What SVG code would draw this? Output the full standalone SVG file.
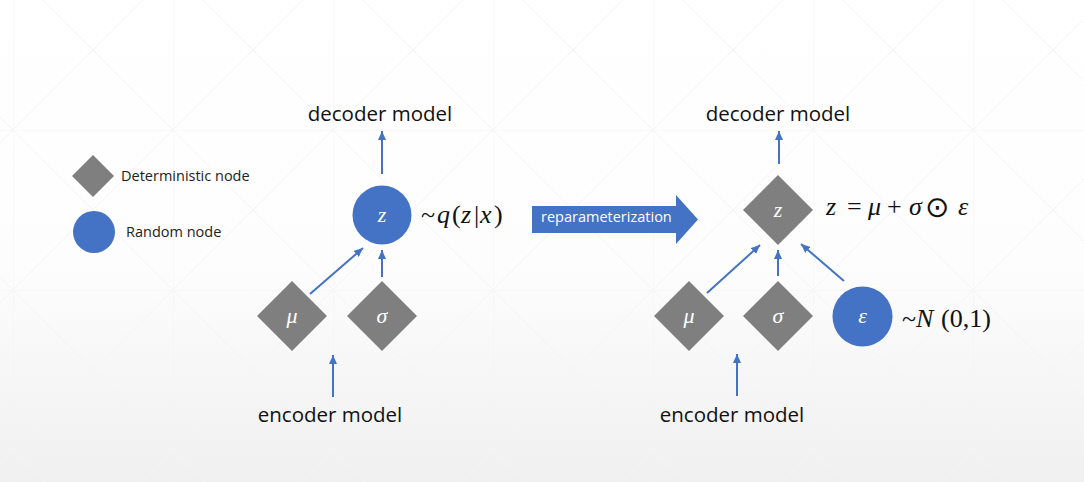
<svg xmlns="http://www.w3.org/2000/svg" width="1084" height="482" viewBox="0 0 1084 482">
  <defs>
    <linearGradient id="bg" x1="0" y1="0" x2="0" y2="1">
      <stop offset="0" stop-color="#ffffff"/>
      <stop offset="0.55" stop-color="#fdfdfd"/>
      <stop offset="1" stop-color="#f0f0f0"/>
    </linearGradient>
    <pattern id="grid" patternUnits="userSpaceOnUse" x="13" y="130" width="160" height="160">
      <path d="M0,0 L160,0 M0,0 L0,160 M0,0 L160,160 M160,0 L0,160" fill="none" stroke="#f4f4f4" stroke-width="1"/>
    </pattern>
    <marker id="ah" markerUnits="userSpaceOnUse" markerWidth="9" markerHeight="8" refX="9" refY="4" orient="auto">
      <path d="M0,0 L9,4 L0,8 z" fill="#4472C4"/>
    </marker>
  </defs>
  <style>
    .det { fill: #7F7F7F; }
    .rnd { fill: #4472C4; }
    .conn { stroke: #4472C4; stroke-width: 2; fill: none; marker-end: url(#ah); }
    .lbl { font-family: "Open Sans", "Liberation Sans", sans-serif; fill: #111111; }
    .big { font-size: 20.5px; text-anchor: middle; }
    .leg { font-size: 14.5px; fill: #222222; }
    .math { font-family: "Liberation Serif", "DejaVu Serif", serif; font-style: italic; }
    .up { font-style: normal; }
    .inw { fill: #ffffff; font-size: 22px; text-anchor: middle; }
    .eq { fill: #111111; font-size: 26px; }
  </style>

  <rect x="0" y="0" width="1084" height="482" fill="url(#bg)"/>
  <rect x="0" y="0" width="1084" height="482" fill="url(#grid)"/>

  <g id="legend">
    <g id="legend-det">
      <polygon class="det" points="93,155 114,176 93,197 72,176"/>
      <text class="lbl leg" x="121" y="181">Deterministic node</text>
    </g>
    <g id="legend-rnd">
      <circle class="rnd" cx="94" cy="232" r="21"/>
      <text class="lbl leg" x="126" y="237">Random node</text>
    </g>
  </g>

  <!-- Left diagram -->
  <g id="left-decoder"><text class="lbl big" x="380" y="121">decoder model</text></g>
  <g id="left-encoder"><text class="lbl big" x="330" y="422">encoder model</text></g>
  <g id="left-z">
    <circle class="rnd" cx="382" cy="215" r="29.5"/>
    <text class="math inw" x="382" y="222">z</text>
    <text class="math eq" y="223"><tspan class="up" x="421">~</tspan><tspan x="437">q</tspan><tspan class="up" x="452">(</tspan><tspan x="461">z</tspan><tspan class="up" x="474">|</tspan><tspan x="480">x</tspan><tspan class="up" x="494">)</tspan></text>
  </g>
  <g id="left-mu">
    <polygon class="det" points="292,281 327,316 292,351 257,316"/>
    <text class="math inw" x="292" y="323">μ</text>
  </g>
  <g id="left-sigma">
    <polygon class="det" points="382,281 417,316 382,351 347,316"/>
    <text class="math inw" x="382" y="323">σ</text>
  </g>

  <!-- Reparameterization arrow -->
  <g id="reparam">
    <polygon class="rnd" points="532,206 676,206 676,195 698,219.5 676,244 676,233 532,233"/>
    <text x="541" y="222" font-family="Open Sans, Liberation Sans, sans-serif" font-size="14.5" fill="#ffffff">reparameterization</text>
  </g>

  <!-- Right diagram -->
  <g id="right-decoder"><text class="lbl big" x="778" y="121">decoder model</text></g>
  <g id="right-encoder"><text class="lbl big" x="732" y="422">encoder model</text></g>
  <g id="right-z">
    <polygon class="det" points="778,175 813,210 778,245 743,210"/>
    <text class="math inw" x="778" y="217">z</text>
    <text class="math eq" y="215"><tspan x="826">z</tspan><tspan class="up" x="847">=</tspan><tspan x="868">μ</tspan><tspan class="up" x="887">+</tspan><tspan x="909">σ</tspan><tspan class="up" x="925" font-family="DejaVu Sans, sans-serif" font-size="29" dy="2">⊙</tspan><tspan x="958" dy="-2">ε</tspan></text>
  </g>
  <g id="right-mu">
    <polygon class="det" points="689,281 724,316 689,351 654,316"/>
    <text class="math inw" x="689" y="323">μ</text>
  </g>
  <g id="right-sigma">
    <polygon class="det" points="778,281 813,316 778,351 743,316"/>
    <text class="math inw" x="778" y="323">σ</text>
  </g>
  <g id="right-eps">
    <circle class="rnd" cx="862.5" cy="316.5" r="30"/>
    <text class="math inw" x="862.5" y="323">ε</text>
    <text class="math eq" y="327"><tspan class="up" x="902">~</tspan><tspan x="916">N</tspan><tspan class="up" x="941">(0,1)</tspan></text>
  </g>

  <g id="connectors">
    <line class="conn" x1="382" y1="174" x2="382" y2="131"/>
    <line class="conn" x1="310" y1="294" x2="363" y2="248"/>
    <line class="conn" x1="382" y1="277" x2="382" y2="250"/>
    <line class="conn" x1="333" y1="397" x2="333" y2="355"/>
    <line class="conn" x1="779" y1="164" x2="779" y2="131"/>
    <line class="conn" x1="707" y1="293" x2="760" y2="245"/>
    <line class="conn" x1="778" y1="276" x2="778" y2="250"/>
    <line class="conn" x1="844" y1="281" x2="801" y2="244"/>
    <line class="conn" x1="737" y1="396" x2="737" y2="354"/>
  </g>
</svg>
